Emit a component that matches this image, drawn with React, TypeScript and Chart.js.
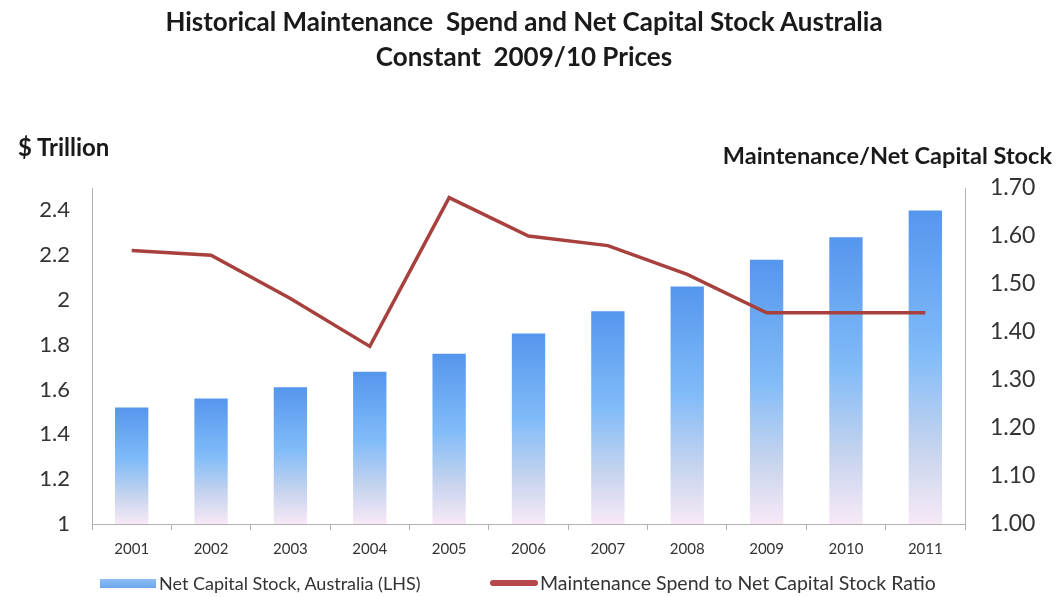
import React, { useEffect, useRef } from "react";
import { Chart, registerables } from "chart.js";

Chart.register(...registerables);

const years = ["2001", "2002", "2003", "2004", "2005", "2006", "2007", "2008", "2009", "2010", "2011"];
const netCapitalStock = [1.52, 1.56, 1.61, 1.68, 1.76, 1.85, 1.95, 2.06, 2.18, 2.28, 2.40];
const maintenanceRatio = [1.57, 1.56, 1.47, 1.37, 1.68, 1.60, 1.58, 1.52, 1.44, 1.44, 1.44];
const leftTicks = [1, 1.2, 1.4, 1.6, 1.8, 2, 2.2, 2.4];
const rightTicks = [1.0, 1.1, 1.2, 1.3, 1.4, 1.5, 1.6, 1.7];

const titleLines = ["Historical Maintenance  Spend and Net Capital Stock Australia", "Constant  2009/10 Prices"];
const leftAxisTitle = "$ Trillion";
const rightAxisTitle = "Maintenance/Net Capital Stock";
const barLabel = "Net Capital Stock, Australia (LHS)";
const lineLabel = "Maintenance Spend to Net Capital Stock Ratio";

const FONT = 'Lato, "Open Sans", sans-serif';
const LINE_COLOR = "#a8403e";

export default function App() {
  const canvasRef = useRef<HTMLCanvasElement | null>(null);

  useEffect(() => {
    document.body.style.margin = "0";
    const canvas = canvasRef.current;
    if (!canvas) return;

    const barColor = (ctx: any) => {
      const chart = ctx.chart;
      if (!chart.chartArea || ctx.raw == null) return "#6fa8f0";
      const yScale = chart.scales.y;
      const top = yScale.getPixelForValue(ctx.raw);
      const bottom = yScale.getPixelForValue(yScale.min);
      const g = chart.ctx.createLinearGradient(0, top, 0, bottom);
      g.addColorStop(0, "#5596ee");
      g.addColorStop(0.45, "#80bbf8");
      g.addColorStop(0.75, "#c4d3ee");
      g.addColorStop(1, "#f7e9f6");
      return g;
    };

    const chart = new Chart(canvas, {
      data: {
        labels: years,
        datasets: [
          {
            type: "line",
            label: lineLabel,
            data: maintenanceRatio,
            yAxisID: "y1",
            borderColor: LINE_COLOR,
            borderWidth: 3.5,
            pointRadius: 0,
            tension: 0,
            order: 0,
          },
          {
            type: "bar",
            label: barLabel,
            data: netCapitalStock,
            yAxisID: "y",
            backgroundColor: barColor,
            barPercentage: 0.42,
            categoryPercentage: 1,
            order: 1,
          },
        ],
      },
      options: {
        responsive: false,
        animation: false,
        layout: { padding: { top: 188, left: 0, right: 0, bottom: 0 } },
        plugins: {
          legend: { display: false },
          title: { display: false },
          tooltip: { enabled: false },
        },
        scales: {
          x: {
            afterFit: (s: any) => {
              s.height = 73;
            },
            grid: {
              offset: true,
              drawOnChartArea: false,
              drawTicks: true,
              tickLength: 6,
              color: "#b0b0b0",
            },
            border: { display: true, color: "#b0b0b0", width: 1 },
            ticks: {
              color: "#333",
              font: { family: FONT, size: 15 },
              padding: 10,
              maxRotation: 0,
              autoSkip: false,
            },
          },
          y: {
            position: "left",
            min: 1,
            max: 2.5,
            afterFit: (s: any) => {
              s.width = 92;
            },
            afterBuildTicks: (s: any) => {
              s.ticks = leftTicks.map((v) => ({ value: v }));
            },
            grid: { drawOnChartArea: false, drawTicks: false },
            border: { display: true, color: "#b0b0b0", width: 1 },
            ticks: {
              autoSkip: false,
              color: "#333",
              font: { family: FONT, size: 22 },
              padding: 22,
              callback: (v: any) => String(Math.round(Number(v) * 10) / 10),
            },
          },
          y1: {
            position: "right",
            min: 1,
            max: 1.7,
            afterFit: (s: any) => {
              s.width = 91;
            },
            afterBuildTicks: (s: any) => {
              s.ticks = rightTicks.map((v) => ({ value: v }));
            },
            grid: { drawOnChartArea: false, drawTicks: false },
            border: { display: true, color: "#b0b0b0", width: 1 },
            ticks: {
              autoSkip: false,
              color: "#333",
              font: { family: FONT, size: 23 },
              padding: 25,
              callback: (v: any) => Number(v).toFixed(2),
            },
          },
        },
      },
    } as any);

    return () => chart.destroy();
  }, []);

  const textColor = "#1a1a1a";

  return (
    <div style={{ position: "relative", width: 1056, height: 597, background: "#fff", overflow: "hidden", fontFamily: FONT }}>
      <canvas ref={canvasRef} width={1056} height={597} style={{ position: "absolute", left: 0, top: 0 }} />
      <div style={{ position: "absolute", left: 0, top: 4, width: 1048, textAlign: "center", fontWeight: 700, fontSize: 26, lineHeight: "35px", color: textColor, whiteSpace: "pre" }}>
        {titleLines.map((t, i) => (
          <div key={i}>{t}</div>
        ))}
      </div>
      <div style={{ position: "absolute", left: 18, top: 132, fontWeight: 700, fontSize: 24, lineHeight: "30px", color: textColor, whiteSpace: "pre" }}>
        {leftAxisTitle}
      </div>
      <div style={{ position: "absolute", right: 4, top: 140, fontWeight: 700, fontSize: 23.5, lineHeight: "30px", color: textColor, whiteSpace: "pre" }}>
        {rightAxisTitle}
      </div>
      <div style={{ position: "absolute", left: 100, top: 571, display: "flex", alignItems: "center", fontSize: 18, lineHeight: "24px", color: "#333", whiteSpace: "pre" }}>
        <div style={{ width: 56, height: 9, background: "linear-gradient(#8cbdf5, #6ea6ec)", marginRight: 3 }} />
        <span>{barLabel}</span>
      </div>
      <div style={{ position: "absolute", left: 490, top: 571, display: "flex", alignItems: "center", fontSize: 19.5, lineHeight: "24px", color: "#333", whiteSpace: "pre" }}>
        <div style={{ width: 48, height: 6, borderRadius: 3, background: "#b5484a", marginRight: 2 }} />
        <span>{lineLabel}</span>
      </div>
    </div>
  );
}
